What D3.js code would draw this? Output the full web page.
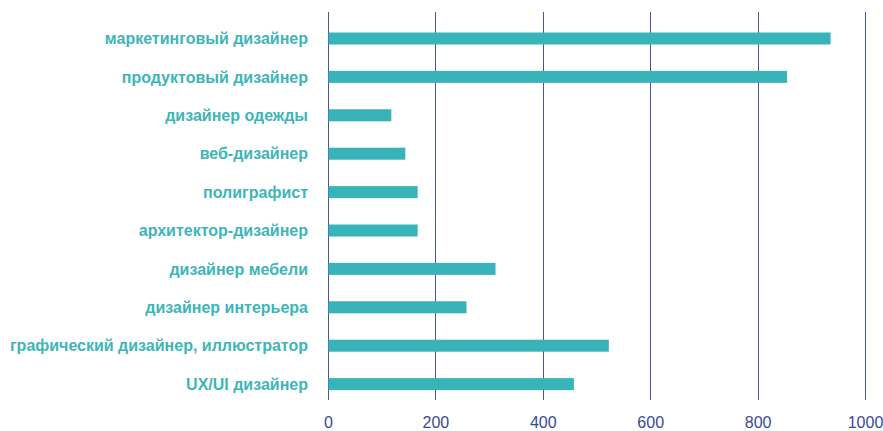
<!DOCTYPE html>
<html>
<head>
<meta charset="utf-8">
<script src="https://cdn.jsdelivr.net/npm/d3@7"></script>
<style>
  body { margin: 0; background: #fff; }
  .cat { font-family: "Liberation Sans", Arial, sans-serif; font-weight: bold; font-size: 16px; fill: #3db5b9; }
  .tick text { font-family: "Liberation Sans", Arial, sans-serif; font-size: 16px; fill: #3a4896; }
</style>
</head>
<body>
<div id="chart"></div>
<script>
var categories = ["маркетинговый дизайнер", "продуктовый дизайнер", "дизайнер одежды", "веб-дизайнер",
  "полиграфист", "архитектор-дизайнер", "дизайнер мебели", "дизайнер интерьера",
  "графический дизайнер, иллюстратор", "UX/UI дизайнер"];
var values = [935, 854, 117, 143, 166, 166, 311, 257, 522, 457];
var ticks = [0, 200, 400, 600, 800, 1000];

var width = 883, height = 431;

var svg = d3.select("#chart").append("svg")
  .attr("width", width)
  .attr("height", height);

var x = d3.scaleLinear().domain([0, 1000]).range([328, 865]);
var y = d3.scaleBand().domain(categories).range([19.3, 403.3])
  .paddingInner(0.6875).paddingOuter(0.34375);

// vertical grid lines
svg.selectAll(".grid")
  .data(ticks)
  .enter().append("line")
    .attr("class", "grid")
    .attr("x1", function(d) { return Math.round(x(d)) + 0.5; })
    .attr("x2", function(d) { return Math.round(x(d)) + 0.5; })
    .attr("y1", 12)
    .attr("y2", 400)
    .attr("stroke", "#4653a3")
    .attr("stroke-width", 1);

var xAxis = d3.axisBottom(x).tickValues(ticks).tickFormat(d3.format("d")).tickSize(0).tickPadding(0);
svg.append("g")
  .attr("transform", "translate(0,418)")
  .call(xAxis)
  .call(function(g) { g.select(".domain").remove(); })
  .selectAll("text").attr("dy", "0.6em");

svg.selectAll(".bar")
  .data(values)
  .enter().append("rect")
    .attr("class", "bar")
    .attr("x", x(0) + 0.5)
    .attr("y", function(d, i) { return y(categories[i]); })
    .attr("width", function(d) { return x(d) - x(0); })
    .attr("height", y.bandwidth())
    .attr("fill", "#38b4b9");

svg.selectAll(".cat")
  .data(categories)
  .enter().append("text")
    .attr("class", "cat")
    .attr("x", 308)
    .attr("y", function(d) { return y(d) + y.bandwidth() / 2; })
    .attr("dy", "0.35em")
    .attr("text-anchor", "end")
    .text(function(d) { return d; });
</script>
</body>
</html>
